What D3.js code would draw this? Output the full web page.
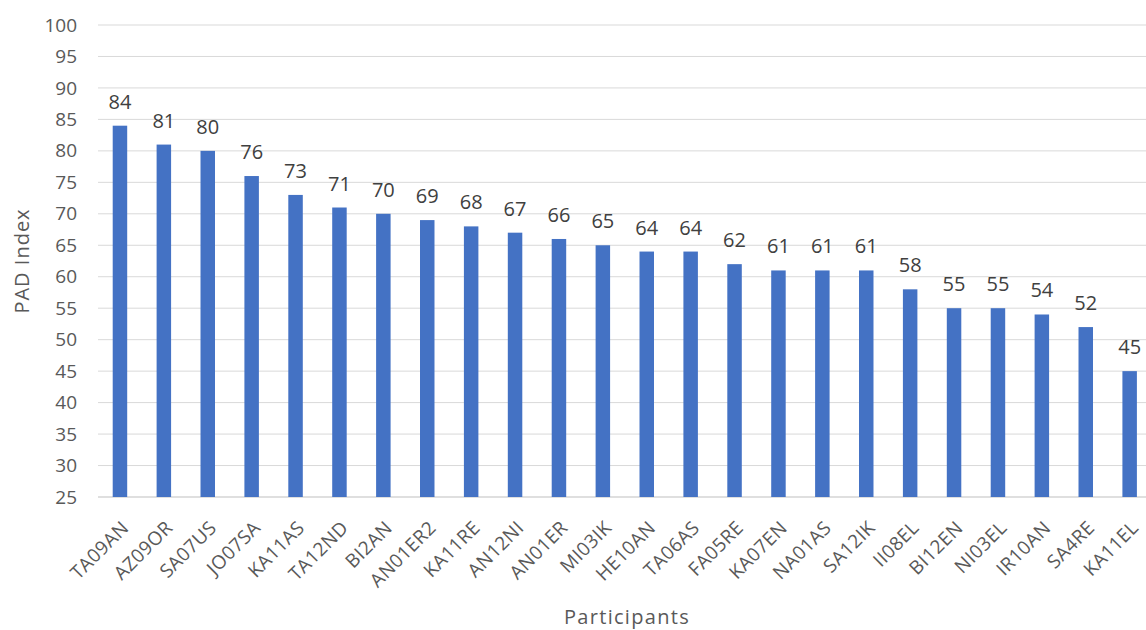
<!DOCTYPE html>
<html>
<head>
<meta charset="utf-8">
<script src="https://cdn.jsdelivr.net/npm/d3@7"></script>
<style>
  body { margin: 0; background: #fff; }
  text { font-family: "Open Sans", "Noto Sans", sans-serif; }
</style>
</head>
<body>
<div id="chart"></div>
<script>
// Participants and their PAD index
const participants = ["TA09AN", "AZ09OR", "SA07US", "JO07SA", "KA11AS", "TA12ND", "BI2AN", "AN01ER2",
    "KA11RE", "AN12NI", "AN01ER", "MI03IK", "HE10AN", "TA06AS", "FA05RE", "KA07EN", "NA01AS",
    "SA12IK", "II08EL", "BI12EN", "NI03EL", "IR10AN", "SA4RE", "KA11EL"];
const padIndex = [84, 81, 80, 76, 73, 71, 70, 69, 68, 67, 66, 65, 64, 64, 62, 61, 61, 61, 58, 55, 55, 54, 52, 45];
const yTicks = [25, 30, 35, 40, 45, 50, 55, 60, 65, 70, 75, 80, 85, 90, 95, 100];

const width = 1146, height = 630;
const margin = { top: 25, right: 0, bottom: 133, left: 98 };

const svg = d3.select('#chart')
    .append('svg')
    .attr('width', width)
    .attr('height', height);

const x = d3.scaleBand()
    .domain(participants)
    .range([margin.left, margin.left + participants.length * 43.9])
    .paddingInner(0.67)
    .paddingOuter(0.335);

const y = d3.scaleLinear()
    .domain([25, 100])
    .range([height - margin.bottom, margin.top]);

// Gridlines
svg.append('g')
    .selectAll('line')
    .data(yTicks)
    .enter()
    .append('line')
    .attr('x1', margin.left)
    .attr('x2', width)
    .attr('y1', d => y(d))
    .attr('y2', d => y(d))
    .attr('stroke', d => d === 25 ? '#bfbfbf' : '#d9d9d9')
    .attr('stroke-width', 1);

// Y axis labels
const yAxis = svg.append('g')
    .attr('transform', `translate(${margin.left - 21},0)`)
    .call(d3.axisLeft(y).tickValues(yTicks).tickSize(0).tickPadding(0));
yAxis.select('.domain').remove();
yAxis.selectAll('text')
    .style('font-size', '19px')
    .style('fill', '#595959');

// Bars
svg.selectAll('.bar')
    .data(padIndex)
    .enter()
    .append('rect')
    .attr('class', 'bar')
    .attr('x', (d, i) => x(participants[i]))
    .attr('width', x.bandwidth())
    .attr('y', d => y(d))
    .attr('height', d => y(25) - y(d))
    .attr('fill', '#4472c4');

// Value labels
svg.selectAll('.value')
    .data(padIndex)
    .enter()
    .append('text')
    .attr('class', 'value')
    .attr('x', (d, i) => x(participants[i]) + x.bandwidth() / 2)
    .attr('y', d => y(d) - 17)
    .attr('text-anchor', 'middle')
    .style('font-size', '20px')
    .style('fill', '#404040')
    .text(d => d);

// X axis labels
const xAxis = svg.append('g')
    .attr('transform', `translate(0,${y(25)})`)
    .call(d3.axisBottom(x).tickSize(0).tickPadding(0));
xAxis.select('.domain').remove();
xAxis.selectAll('text')
    .attr('text-anchor', 'end')
    .attr('dy', 0)
    .attr('transform', 'translate(10,32) rotate(-45)')
    .style('font-size', '19px')
    .style('letter-spacing', '0.4px')
    .style('fill', '#595959');

// Axis titles
svg.append('text')
    .attr('transform', `translate(29, ${(y(25) + y(100)) / 2}) rotate(-90)`)
    .attr('text-anchor', 'middle')
    .style('font-size', '20px')
    .style('letter-spacing', '1px')
    .style('fill', '#595959')
    .text('PAD Index');

svg.append('text')
    .attr('x', 627)
    .attr('y', 624)
    .attr('text-anchor', 'middle')
    .style('font-size', '20px')
    .style('letter-spacing', '1.3px')
    .style('fill', '#595959')
    .text('Participants');
</script>
</body>
</html>
